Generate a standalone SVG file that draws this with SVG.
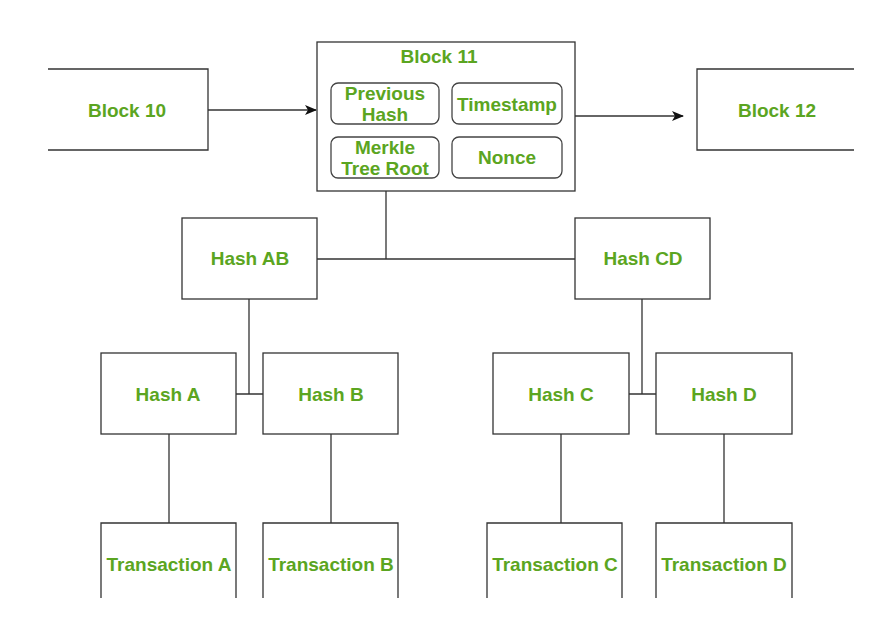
<svg xmlns="http://www.w3.org/2000/svg" width="877" height="631" viewBox="0 0 877 631">
<defs>
<style>
.b{fill:#fff;stroke:#333;stroke-width:1.3}
.o{fill:none;stroke:#333;stroke-width:1.3}
.r{fill:#fff;stroke:#444;stroke-width:1.3}
.t{font-family:"Liberation Sans",Arial,sans-serif;font-weight:bold;font-size:19px;fill:#5ba521;text-anchor:middle}
.c{fill:none;stroke:#333;stroke-width:1.3}
</style>
<marker id="ar" markerWidth="12" markerHeight="10" refX="11" refY="5" orient="auto" markerUnits="userSpaceOnUse">
<path d="M0,0 L12,5 L0,10 L3,5 Z" fill="#111"/>
</marker>
</defs>
<rect width="877" height="631" fill="#fff"/>
<g id="connectors">
<path class="c" d="M208,110 H316" marker-end="url(#ar)"/>
<path class="c" d="M575,116 H683" marker-end="url(#ar)"/>
<path class="c" d="M386,178 V259 M317,259 H575"/>
<path class="c" d="M249,299 V394 M236,394 H263"/>
<path class="c" d="M642,299 V394 M629,394 H656"/>
<path class="c" d="M169,434 V523 M331,434 V523 M561,434 V523 M724,434 V523"/>
</g>
<g id="block10">
<path class="o" d="M48,69 H208 V150 H48"/>
<text class="t" x="127" y="117">Block 10</text>
</g>
<g id="block12">
<path class="o" d="M854,69 H697 V150 H854"/>
<text class="t" x="777" y="117">Block 12</text>
</g>
<g id="block11">
<rect class="b" x="317" y="42" width="258" height="149"/>
<text class="t" x="439" y="63">Block 11</text>
</g>
<g id="previous-hash">
<rect class="r" x="331" y="83" width="108" height="41" rx="7"/>
<text class="t" x="385" y="100">Previous</text>
<text class="t" x="385" y="121">Hash</text>
</g>
<g id="timestamp">
<rect class="r" x="452" y="83" width="110" height="41" rx="7"/>
<text class="t" x="507" y="111">Timestamp</text>
</g>
<g id="merkle-root">
<rect class="r" x="331" y="137" width="108" height="41" rx="7"/>
<text class="t" x="385" y="154">Merkle</text>
<text class="t" x="385" y="175">Tree Root</text>
</g>
<g id="nonce">
<rect class="r" x="452" y="137" width="110" height="41" rx="7"/>
<text class="t" x="507" y="164">Nonce</text>
</g>
<g id="hash-ab">
<rect class="b" x="182" y="218" width="135" height="81"/>
<text class="t" x="250" y="265">Hash AB</text>
</g>
<g id="hash-cd">
<rect class="b" x="575" y="218" width="135" height="81"/>
<text class="t" x="643" y="265">Hash CD</text>
</g>
<g id="hash-a">
<rect class="b" x="101" y="353" width="135" height="81"/>
<text class="t" x="168" y="401">Hash A</text>
</g>
<g id="hash-b">
<rect class="b" x="263" y="353" width="135" height="81"/>
<text class="t" x="331" y="401">Hash B</text>
</g>
<g id="hash-c">
<rect class="b" x="493" y="353" width="136" height="81"/>
<text class="t" x="561" y="401">Hash C</text>
</g>
<g id="hash-d">
<rect class="b" x="656" y="353" width="136" height="81"/>
<text class="t" x="724" y="401">Hash D</text>
</g>
<g id="transaction-a">
<path class="o" d="M101,598 V523 H236 V598"/>
<text class="t" x="169" y="571">Transaction A</text>
</g>
<g id="transaction-b">
<path class="o" d="M263,598 V523 H398 V598"/>
<text class="t" x="331" y="571">Transaction B</text>
</g>
<g id="transaction-c">
<path class="o" d="M487,598 V523 H622 V598"/>
<text class="t" x="555" y="571">Transaction C</text>
</g>
<g id="transaction-d">
<path class="o" d="M656,598 V523 H792 V598"/>
<text class="t" x="724" y="571">Transaction D</text>
</g>
</svg>
